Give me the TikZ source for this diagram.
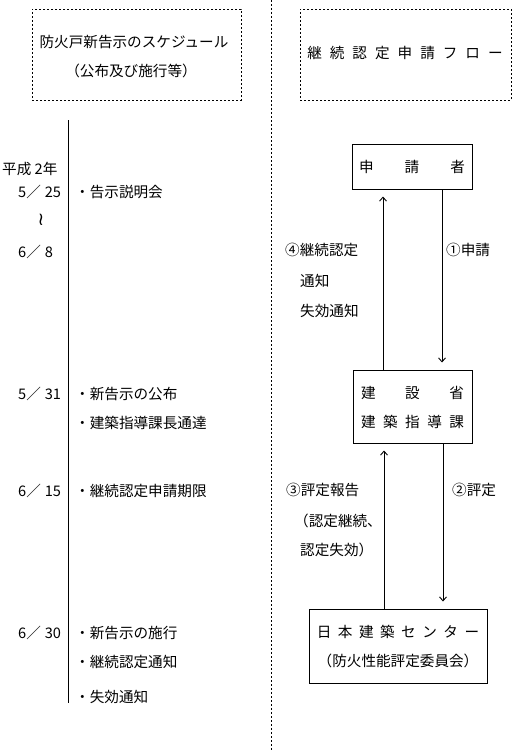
\documentclass[tikz,border=0pt]{standalone}
\usepackage{fontspec}
\setmainfont{Noto Sans CJK JP}
\newfontfamily\dejavu{DejaVu Sans}
\usetikzlibrary{arrows.meta}
\newcommand\gp[1]{\kern#1pt\relax}
\begin{document}
\begin{tikzpicture}[x=1pt,y=-1pt,
  txt/.style={inner sep=0pt, font=\fontsize{14.6}{17}\selectfont},
  lft/.style={txt, anchor=west},
  dbox/.style={draw, dash pattern=on 2pt off 2pt, line width=0.8pt, inner sep=0pt},
  sbox/.style={draw, line width=1pt, inner sep=0pt},
  arr/.style={-{Straight Barb[length=4pt,width=7pt]}, line width=0.9pt, shorten >=7pt},
  sepline/.style={dash pattern=on 2pt off 2pt, line width=0.8pt},
  tline/.style={line width=1pt}]
\useasboundingbox (0,0) rectangle (517,752);
% separator
\coordinate (sepT) at (271,0);
\coordinate (sepB) at (271,752);
\draw[sepline] (sepT) -- (sepB);
% title boxes
\node[dbox, minimum width=209pt, minimum height=91pt] (tbL) at (136.5,54.5) {};
\node[txt] (tL1) at (134,42) {防火戸新告示のスケジュール};
\node[txt] (tL2) at (131,71) {（公布及び施行等）};
\node[dbox, minimum width=211pt, minimum height=91pt] (tbR) at (405.5,54.5) {};
\node[txt] (tR) at (405,53) {継\gp{8}続\gp{8}認\gp{8}定\gp{8}申\gp{8}請\gp{8}フ\gp{8}ロ\gp{8}ー};
% timeline
\coordinate (tlTop) at (68,120);
\coordinate (tlBot) at (68,703);
\draw[tline] (tlTop) -- (tlBot);
% dates
\node[lft] (d0) at (2,169) {平成 2年};
\node[lft] (d1) at (18,192) {5／\gp{4}25};
\node[txt] (wv) at (41,220) {\dejavu\fontsize{18}{19}\selectfont ≀};
\node[lft] (d2) at (18,252) {6／\gp{4}8};
\node[lft] (d3) at (18,394) {5／\gp{4}31};
\node[lft] (d4) at (18,491) {6／\gp{4}15};
\node[lft] (d5) at (18,633) {6／\gp{4}30};
% items
\node[lft] (i1) at (75,192) {・告示説明会};
\node[lft] (i2) at (75,394) {・新告示の公布};
\node[lft] (i3) at (75,423) {・建築指導課長通達};
\node[lft] (i4) at (75,491) {・継続認定申請期限};
\node[lft] (i5) at (75,633) {・新告示の施行};
\node[lft] (i6) at (75,662) {・継続認定通知};
\node[lft] (i7) at (75,697) {・失効通知};
% flow boxes
\node[sbox, minimum width=120pt, minimum height=45pt, txt] (shinsei) at (412,166.5) {申\gp{31}請\gp{31}者};
\node[sbox, minimum width=119pt, minimum height=73pt] (kensetsu) at (412.5,406.5) {};
\node[txt] (k1) at (412.5,393) {建\gp{29.5}設\gp{29.5}省};
\node[txt] (k2) at (412.5,422) {建\gp{7.5}築\gp{7.5}指\gp{7.5}導\gp{7.5}課};
\node[sbox, minimum width=178pt, minimum height=74pt] (nihon) at (398,646) {};
\node[txt] (n1) at (398,632) {日\gp{6.5}本\gp{6.5}建\gp{6.5}築\gp{6.5}セ\gp{6.5}ン\gp{6.5}タ\gp{6.5}ー};
\node[txt] (n2) at (398,661) {（防火性能評定委員会）};
% arrows
\draw[arr] ([xshift=-29.5pt]kensetsu.north) -- ([xshift=-29.5pt]kensetsu.north |- shinsei.south);
\draw[arr] ([xshift=30pt]shinsei.south) -- ([xshift=30pt]shinsei.south |- kensetsu.north);
\draw[arr] ([xshift=-28.5pt]kensetsu.south |- nihon.north) -- ([xshift=-28.5pt]kensetsu.south);
\draw[arr] ([xshift=30.5pt]kensetsu.south) -- ([xshift=30.5pt]kensetsu.south |- nihon.north);
% arrow labels
\node[lft] (l4a) at (285,250) {④継続認定};
\node[lft] (l4b) at (300,281) {通知};
\node[lft] (l4c) at (300,311) {失効通知};
\node[lft] (l1) at (446,250) {①申請};
\node[lft] (l3a) at (286,490) {③評定報告};
\node[lft] (l3b) at (294,521) {（認定継続、};
\node[lft] (l3c) at (300,550) {認定失効）};
\node[lft] (l2) at (452,490) {②評定};
\end{tikzpicture}
\end{document}
